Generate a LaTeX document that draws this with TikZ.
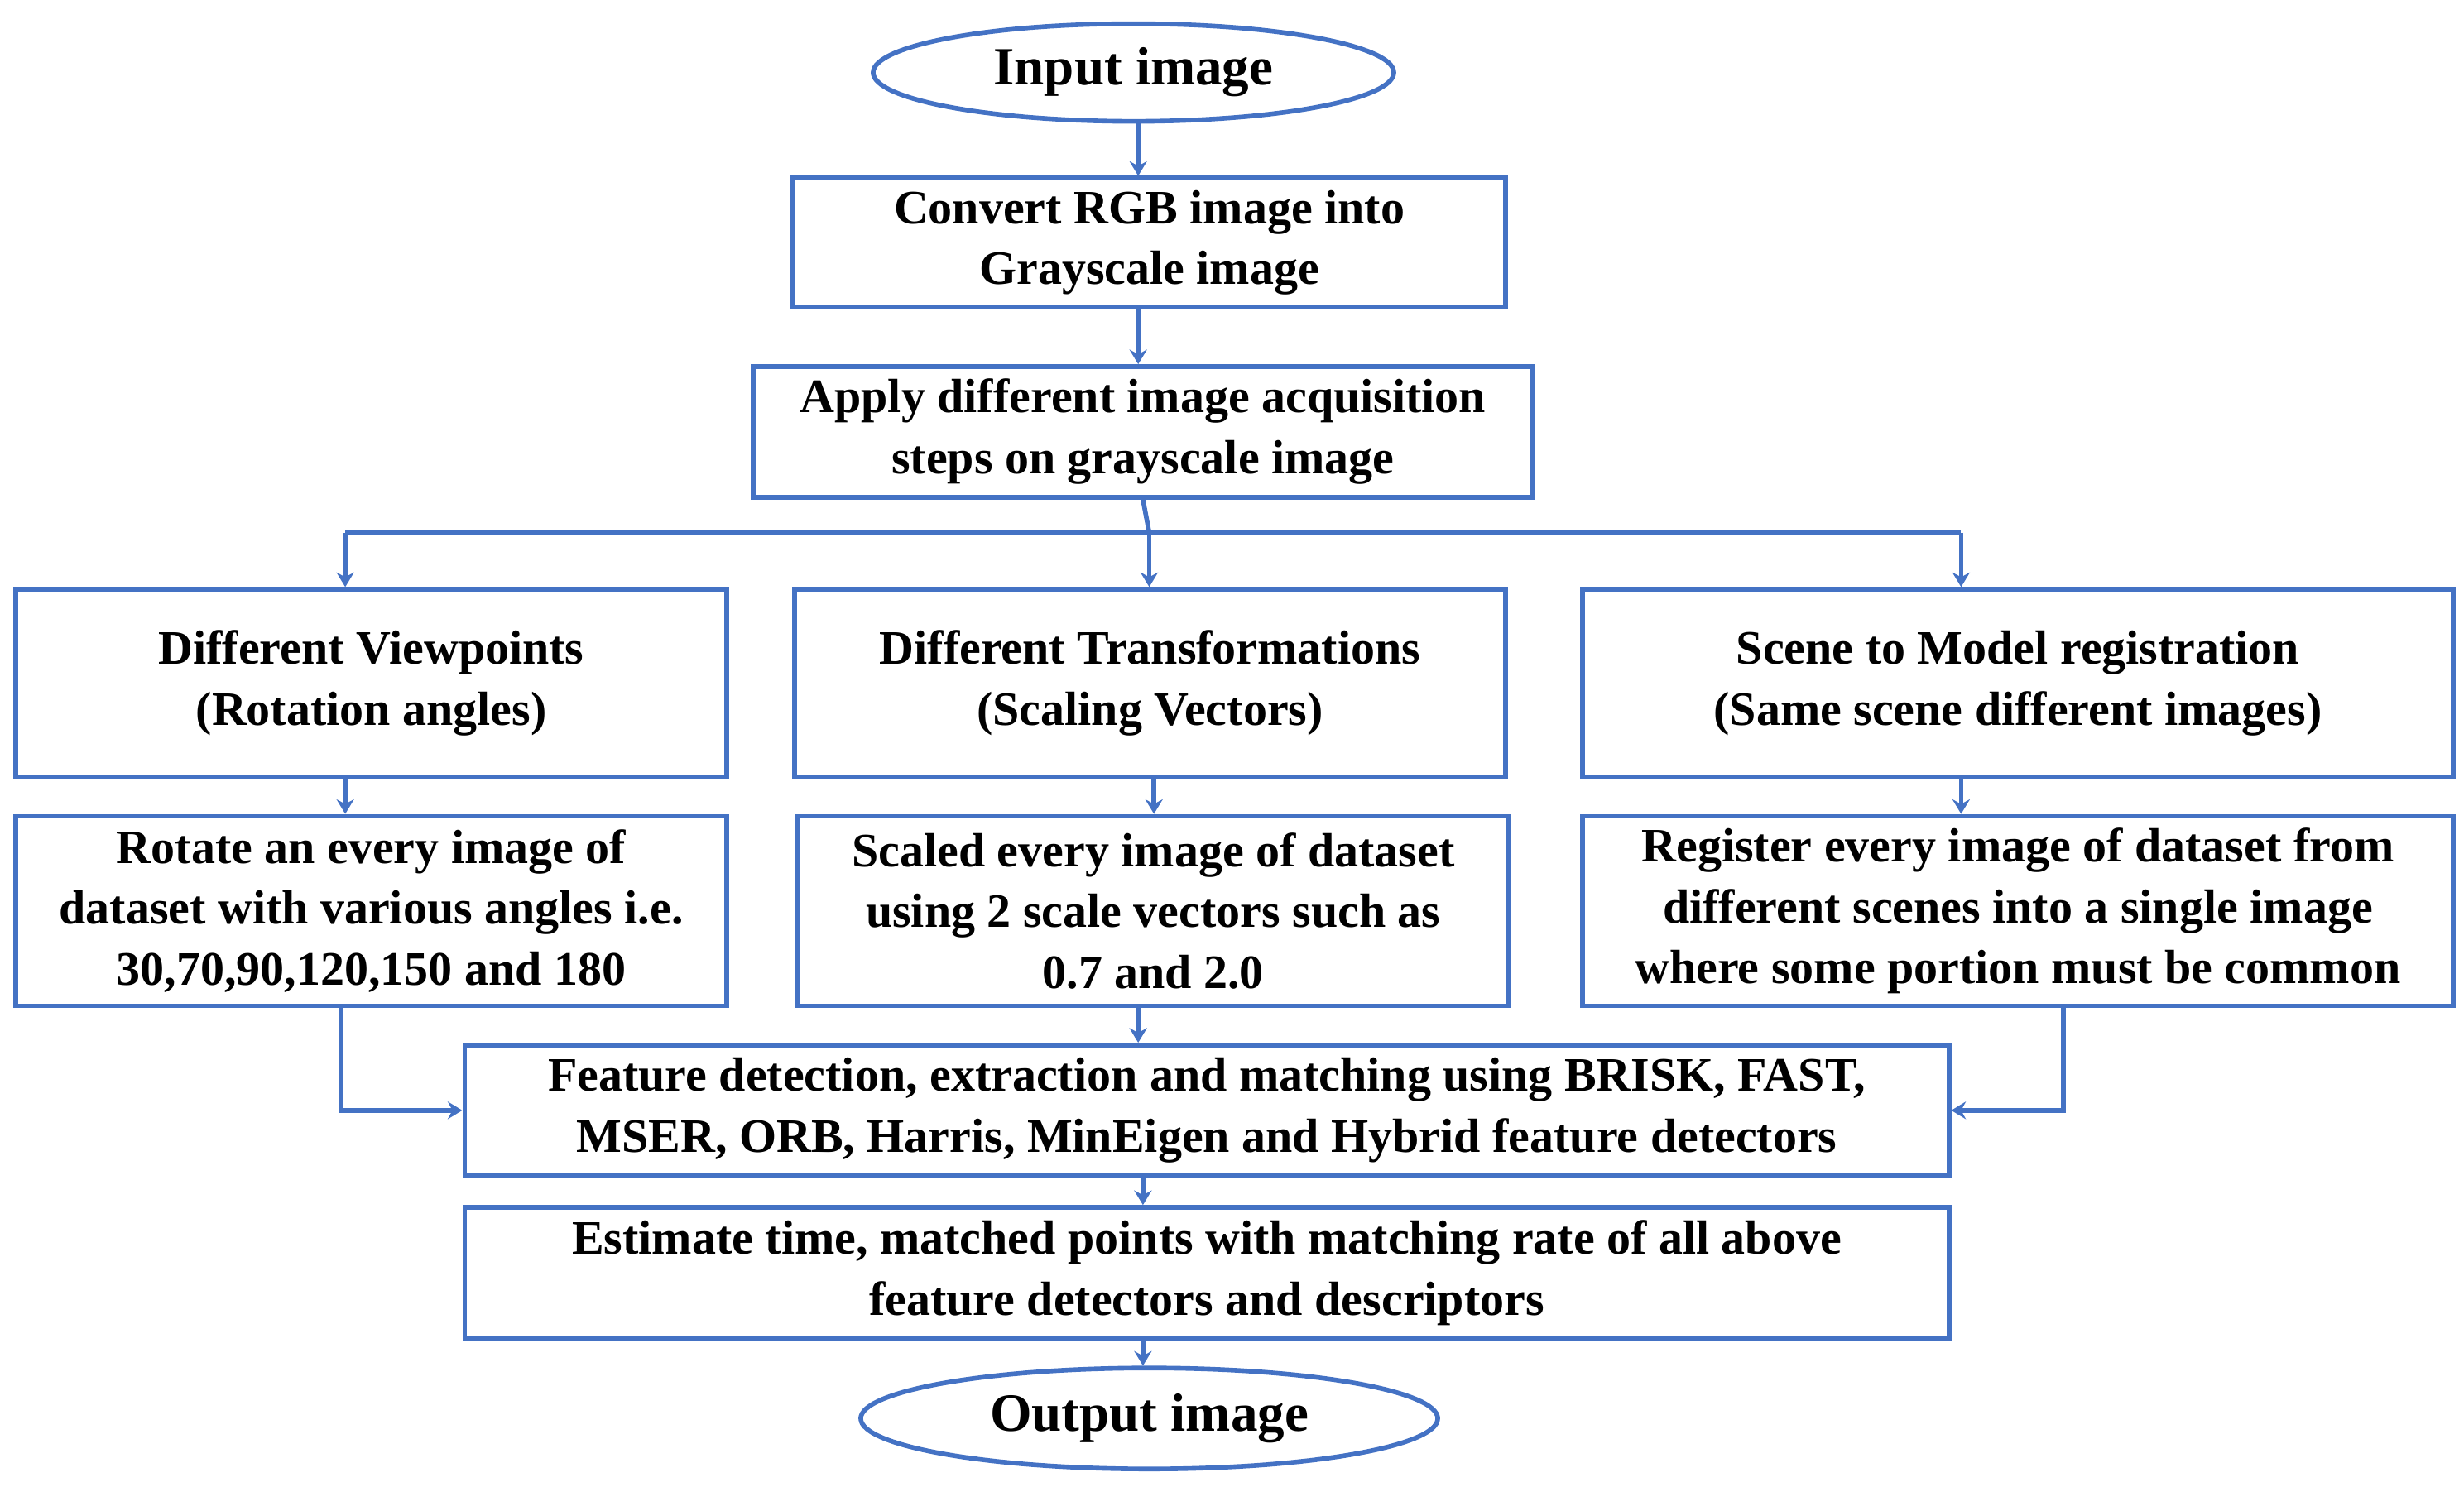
\documentclass[tikz,border=0pt]{standalone}
\usepackage{fontspec}
\setmainfont{Liberation Serif}
\usetikzlibrary{shapes,arrows.meta,calc,positioning}
\definecolor{flowblue}{RGB}{68,114,196}
\tikzset{
  box/.style={draw=flowblue, line width=1.6pt, align=center, inner sep=2pt,
    font=\fontsize{16.5}{21}\selectfont\bfseries},
  term/.style={ellipse, draw=flowblue, line width=1.6pt, inner sep=0pt,
    font=\fontsize{18.5}{22}\selectfont\bfseries},
  flow/.style={draw=flowblue, line width=1.6pt, -{Stealth[length=5pt,width=6pt]}},
  link/.style={draw=flowblue, line width=1.6pt}
}
\begin{document}
\begin{tikzpicture}[x=0.01905cm, y=-0.01905cm]
  \useasboundingbox (0,0) rectangle (1563,943);

  % top
  \node[term, minimum width=6.29cm, minimum height=1.18cm] (in) at (719,46) {Input image};
  \node[box, minimum width=8.61cm, minimum height=1.56cm] (gray) at (729,154) {Convert RGB image into\\Grayscale image};
  \node[box, minimum width=9.41cm, minimum height=1.58cm] (acq) at (725,274) {Apply different image acquisition\\steps on grayscale image};

  % branches
  \node[box, minimum width=8.59cm, minimum height=2.27cm] (view) at (235.5,433.5) {Different Viewpoints\\(Rotation angles)};
  \node[box, minimum width=8.59cm, minimum height=2.27cm] (trans) at (729.5,433.5) {Different Transformations\\(Scaling Vectors)};
  \node[box, minimum width=10.52cm, minimum height=2.27cm] (scene) at (1280,433.5) {Scene to Model registration\\(Same scene different images)};

  \node[box, minimum width=8.59cm, minimum height=2.29cm] (rot) at (235.5,578) {Rotate an every image of\\dataset with various angles i.e.\\30,70,90,120,150 and 180};
  \node[box, minimum width=8.59cm, minimum height=2.29cm] (scale) at (731.5,578) {Scaled every image of dataset\\using 2 scale vectors such as\\0.7 and 2.0};
  \node[box, minimum width=10.52cm, minimum height=2.29cm] (reg) at (1280,578) {Register every image of dataset from\\different scenes into a single image\\where some portion must be common};

  % bottom
  \node[box, minimum width=17.93cm, minimum height=1.58cm] (feat) at (765.5,704.5) {Feature detection, extraction and matching using BRISK, FAST,\\MSER, ORB, Harris, MinEigen and Hybrid feature detectors};
  \node[box, minimum width=17.93cm, minimum height=1.58cm] (est) at (765.5,807.5) {Estimate time, matched points with matching rate of all above\\feature detectors and descriptors};
  \node[term, minimum width=6.97cm, minimum height=1.22cm] (out) at (729,900) {Output image};

  \coordinate (brM) at (729,338);
  \coordinate (brL) at (219,338);
  \coordinate (brR) at (1244,338);
  \coordinate (dnL) at (216,638);
  \coordinate (dnR) at (1309,638);

  \draw[flow] (in.south -| 722,0) -- (gray.north -| 722,0);
  \draw[flow] (gray.south -| 722,0) -- (acq.north -| 722,0);
  \draw[link] (acq.south) -- (brM);
  \draw[link] (brL) -- (brR);
  \draw[flow] (brL) -- (brL |- view.north);
  \draw[flow] (brM) -- (brM |- trans.north);
  \draw[flow] (brR) -- (brR |- scene.north);
  \draw[flow] (view.south -| 219,0) -- (rot.north -| 219,0);
  \draw[flow] (trans.south -| 732,0) -- (scale.north -| 732,0);
  \draw[flow] (scene.south -| 1244,0) -- (reg.north -| 1244,0);
  \draw[flow] (dnL) |- (feat.west);
  \draw[flow] (dnR) |- (feat.east);
  \draw[flow] (scale.south -| 722,0) -- (feat.north -| 722,0);
  \draw[flow] (feat.south -| 725,0) -- (est.north -| 725,0);
  \draw[flow] (est.south -| 725,0) -- (out.north -| 725,0);
\end{tikzpicture}
\end{document}
